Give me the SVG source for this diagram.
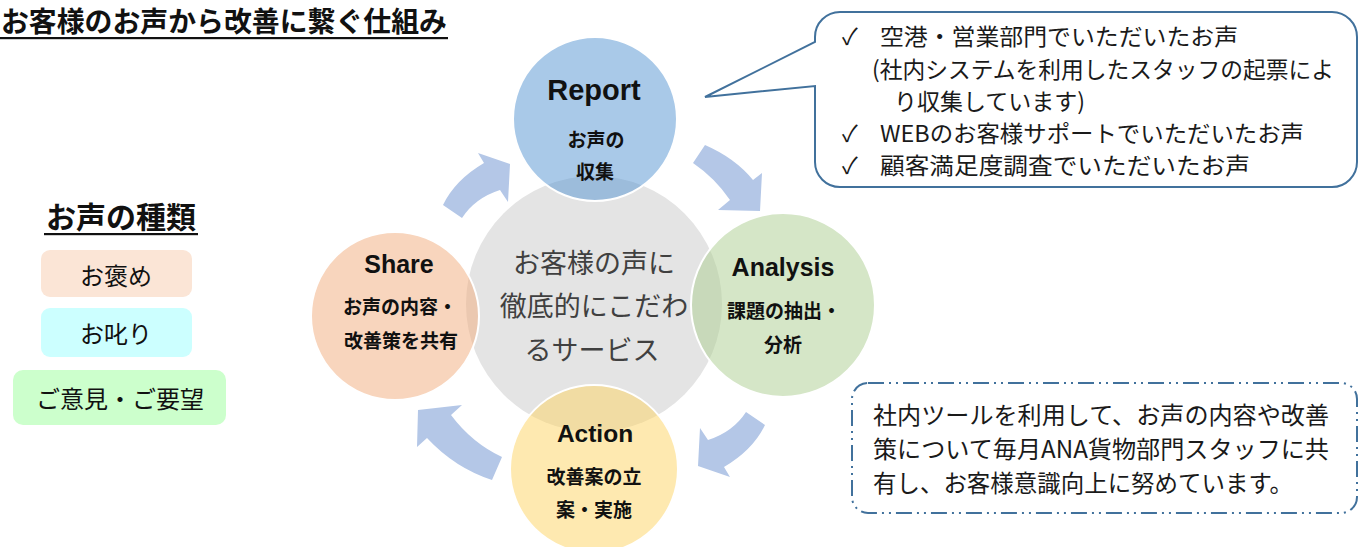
<svg xmlns="http://www.w3.org/2000/svg" width="1359" height="547" viewBox="0 0 1359 547">
<style>
.jp{font-family:"Noto Sans CJK JP","Noto Sans",sans-serif;}
.b{font-weight:bold;}
.lat{font-family:"Liberation Sans",Arial,sans-serif;font-weight:bold;}
.ct{text-anchor:middle;fill:#111;}
.arr{fill:#b4c7e7;}
.node{stroke:#fff;stroke-width:2;fill-opacity:0.5;}
.leg{stroke:none;}
</style>
<rect width="1359" height="547" fill="#fff"/>
<g id="title">
<text class="jp b" x="1" y="32" font-size="28" fill="#111" textLength="446" lengthAdjust="spacingAndGlyphs">お客様のお声から改善に繋ぐ仕組み</text>
<rect x="0" y="37" width="448" height="2.2" fill="#111"/>
</g>
<g id="legend">
<text class="jp b ct" x="121" y="228" font-size="30">お声の種類</text>
<rect x="44" y="233" width="154" height="2.2" fill="#111"/>
<g id="leg-praise"><rect class="leg" x="41" y="250" width="151" height="47" rx="9" fill="#fbe5d6"/><text class="jp ct" x="116" y="285" font-size="24">お褒め</text></g>
<g id="leg-scold"><rect class="leg" x="41" y="308" width="151" height="49" rx="9" fill="#ccffff"/><text class="jp ct" x="116" y="343" font-size="24">お叱り</text></g>
<g id="leg-request"><rect class="leg" x="13" y="370" width="213" height="55" rx="10" fill="#ccffcc"/><text class="jp ct" x="120" y="408" font-size="24">ご意見・ご要望</text></g>
</g>
<g id="center">
<circle cx="594" cy="304" r="128" fill="#e4e4e4"/>
</g>
<g id="report"><circle class="node" cx="595" cy="119" r="82" fill="#5393d1"/></g>
<g id="share"><circle class="node" cx="395" cy="316" r="84" fill="#f1ab7b"/></g>
<g id="analysis"><circle class="node" cx="783" cy="305" r="92" fill="#abcd8f"/></g>
<g id="action"><circle class="node" cx="594" cy="469" r="84" fill="#fdd361"/></g>
<g id="center-text" class="jp" fill="#404040" text-anchor="middle" font-size="27">
<text x="594" y="273">お客様の声に</text>
<text x="594" y="316">徹底的にこだわ</text>
<text x="592" y="360">るサービス</text>
</g>
<g id="report-text">
<text class="lat ct" x="594" y="100" font-size="29">Report</text>
<text class="jp b ct" x="596" y="147" font-size="19">お声の</text>
<text class="jp b ct" x="595" y="179" font-size="19">収集</text>
</g>
<g id="share-text">
<text class="lat ct" x="399" y="273" font-size="25">Share</text>
<text class="jp b ct" x="400" y="314" font-size="19">お声の内容・</text>
<text class="jp b ct" x="401" y="348" font-size="19">改善策を共有</text>
</g>
<g id="analysis-text">
<text class="lat ct" x="783" y="276" font-size="25">Analysis</text>
<text class="jp b ct" x="784" y="318" font-size="19">課題の抽出・</text>
<text class="jp b ct" x="783" y="352" font-size="19">分析</text>
</g>
<g id="action-text">
<text class="lat ct" x="595" y="442" font-size="24.5">Action</text>
<text class="jp b ct" x="594" y="484" font-size="19">改善案の立</text>
<text class="jp b ct" x="594" y="517" font-size="19">案・実施</text>
</g>
<g id="connectors">
<path class="arr" d="M443,205 Q455,180 484,163 L478,153 L510,164 L508,202 L500,190 Q475,198 462,218 Z"/>
<path class="arr" d="M705,145 Q735,158 753,180 L762,173 L760,211 L718,210 L730,200 Q715,178 693,163 Z"/>
<path class="arr" d="M765,425 Q753,450 724,467 L730,477 L698,466 L700,428 L708,440 Q733,432 746,412 Z"/>
<path class="arr" d="M502,457 Q472,443 451,415 L462,405 L418,410 L417,447 L427,438 Q455,468 492,480 Z"/>
</g>
<g id="callout">
<path d="M840,12 H1332 A25,25 0 0 1 1357,37 V162 A25,25 0 0 1 1332,187 H840 A25,25 0 0 1 815,162 V86 L705,97 L815,42 V37 A25,25 0 0 1 840,12 Z" fill="#fff" stroke="#41719c" stroke-width="2"/>
<g class="jp" font-size="23" fill="#1a1a1a">
<text x="842" y="45">✓</text><text x="880" y="45" textLength="358" lengthAdjust="spacingAndGlyphs">空港・営業部門でいただいたお声</text>
<text x="872" y="78" textLength="462" lengthAdjust="spacingAndGlyphs">(社内システムを利用したスタッフの起票によ</text>
<text x="894" y="110">り収集しています)</text>
<text x="842" y="142">✓</text><text x="880" y="142" textLength="424" lengthAdjust="spacingAndGlyphs">WEBのお客様サポートでいただいたお声</text>
<text x="842" y="174">✓</text><text x="880" y="174" textLength="370" lengthAdjust="spacingAndGlyphs">顧客満足度調査でいただいたお声</text>
</g>
</g>
<g id="note">
<rect x="852" y="383" width="505" height="130" rx="16" fill="#fff" stroke="#41719c" stroke-width="2" stroke-dasharray="16 5 2 5 2 5"/>
<g class="jp" font-size="24" fill="#1a1a1a">
<text x="873" y="424" textLength="456" lengthAdjust="spacingAndGlyphs">社内ツールを利用して、お声の内容や改善</text>
<text x="873" y="458" textLength="456" lengthAdjust="spacingAndGlyphs">策について毎月ANA貨物部門スタッフに共</text>
<text x="873" y="492" textLength="420" lengthAdjust="spacingAndGlyphs">有し、お客様意識向上に努めています。</text>
</g>
</g>
</svg>
